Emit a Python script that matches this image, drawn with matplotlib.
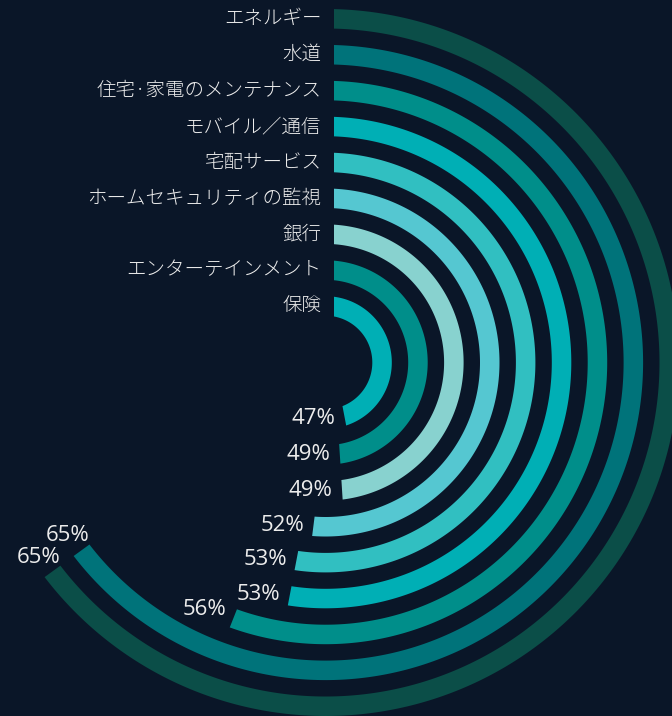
import numpy as np
import matplotlib
matplotlib.use('Agg')
import matplotlib.pyplot as plt

# outermost ring first
categories = ['エネルギー', '水道', '住宅·家電のメンテナンス', 'モバイル／通信', '宅配サービス',
              'ホームセキュリティの監視', '銀行', 'エンターテインメント', '保険']
values = [65, 65, 56, 53, 53, 52, 49, 49, 47]
colors = ['#0b4e48', '#00737a', '#008e8a', '#00afb5', '#31bfc1',
          '#55c7d1', '#88d2cf', '#008e8a', '#00afb5']

BG = '#0a1628'
TXT = '#ececec'
W, H = 672, 716
CX, CY = 325.5, 362.5   # centre of the rings in pixels (from top left)
R_MAX = 400
OUTER = 353.5
PITCH = 35.9
THICK = 19.5
PAD = 8.5               # gap at both ends of each arc, pixels

fig = plt.figure(figsize=(W / 100, H / 100), dpi=100, facecolor=BG)
ax = fig.add_axes([(CX - R_MAX) / W, (H - CY - R_MAX) / H, 2 * R_MAX / W, 2 * R_MAX / H],
                  projection='polar')
ax.set_theta_zero_location('N')
ax.set_theta_direction(-1)
ax.set_ylim(0, R_MAX)
ax.set_facecolor(BG)
ax.grid(False)
ax.set_xticks([])
ax.set_yticks([])
ax.spines['polar'].set_visible(False)

for i, (v, c) in enumerate(zip(values, colors)):
    r_out = OUTER - i * PITCH
    r_in = r_out - THICK
    r_mid = r_out - THICK / 2
    end = 2 * np.pi * v / 100
    t_out = np.linspace(np.arcsin(PAD / r_out), end - np.arcsin(PAD / r_out), 400)
    t_in = np.linspace(np.arcsin(PAD / r_in), end - np.arcsin(PAD / r_in), 400)
    theta = np.concatenate([t_out, t_in[::-1]])
    rr = np.concatenate([np.full_like(t_out, r_out), np.full_like(t_in, r_in)])
    ax.fill(theta, rr, color=c, lw=0)

    # category name left of the arc start
    ax.annotate(categories[i], xy=(0, r_mid), xytext=(-4, 0), textcoords='offset pixels',
                ha='right', va='center', color=TXT, fontsize=14, fontweight='light',
                family=['Noto Sans CJK JP', 'DejaVu Sans'])

    # value at the arc end
    deg = 360 * v / 100
    if deg < 195:
        ha, va, off = 'right', 'center', (-1, 0)
    elif deg < 220:
        ha, va, off = 'right', 'baseline', (1, 0)
    else:
        ha, va, off = 'center', 'baseline', (-9, 2)
    ax.annotate(f'{v}%', xy=(end, r_mid), xytext=off, textcoords='offset pixels',
                ha=ha, va=va, color=TXT, fontsize=16, family=['Open Sans', 'DejaVu Sans'])

fig.savefig('out.png', dpi=100, facecolor=BG)
